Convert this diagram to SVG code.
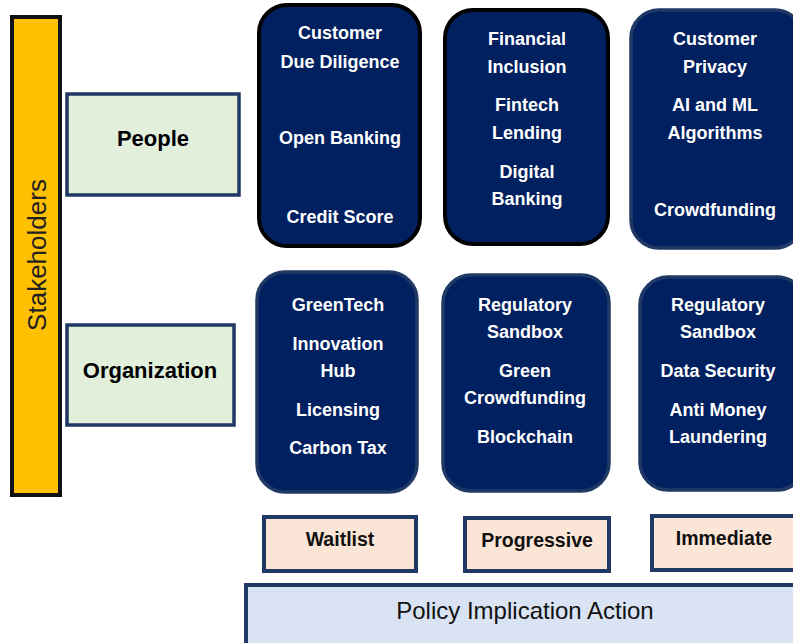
<svg xmlns="http://www.w3.org/2000/svg" width="793" height="643" viewBox="0 0 793 643">
  <style>
    .card { fill: #002060; stroke: #1F3864; stroke-width: 3.5; }
    .card.dark { stroke: #000000; stroke-width: 4; }
    .card-text { font-family: "Liberation Sans", Arial, sans-serif; font-weight: 700; font-size: 18px; fill: #ffffff; text-anchor: middle; dominant-baseline: central; }
    .group-box { fill: #E2EFDA; stroke: #1F3864; stroke-width: 3.5; }
    .group-text { font-family: "Liberation Sans", Arial, sans-serif; font-weight: 700; font-size: 22px; fill: #000000; text-anchor: middle; dominant-baseline: central; }
    .pace-box { fill: #FBE5D6; stroke: #1F3864; stroke-width: 4; }
    .pace-text { font-family: "Liberation Sans", Arial, sans-serif; font-weight: 700; font-size: 19.5px; fill: #111111; text-anchor: middle; dominant-baseline: central; }
    .policy-box { fill: #DAE3F3; stroke: #1F3864; stroke-width: 4; }
    .policy-text { font-family: "Liberation Sans", Arial, sans-serif; font-size: 24px; fill: #111111; text-anchor: middle; dominant-baseline: central; }
    .side-bar { fill: #FFC000; stroke: #111111; stroke-width: 4; }
    .side-text { font-family: "Liberation Sans", Arial, sans-serif; font-size: 26px; fill: #222222; text-anchor: middle; dominant-baseline: central; }
  </style>
  <rect width="793" height="643" fill="#ffffff"/>

  <!-- vertical axis: stakeholders -->
  <g id="stakeholders">
    <rect class="side-bar" x="12" y="17" width="48" height="478"/>
    <text class="side-text" transform="translate(37 255) rotate(-90)">Stakeholders</text>
  </g>

  <!-- stakeholder groups -->
  <g id="people">
    <rect class="group-box" x="67" y="94" width="172" height="101"/>
    <text class="group-text" x="153" y="138">People</text>
  </g>
  <g id="organization">
    <rect class="group-box" x="67" y="325" width="167" height="100"/>
    <text class="group-text" x="150" y="370">Organization</text>
  </g>

  <!-- people cards -->
  <g id="people-waitlist">
    <rect class="card dark" x="259" y="5" width="161" height="241" rx="28"/>
    <text class="card-text" x="340" y="33">Customer</text>
    <text class="card-text" x="340" y="62">Due Diligence</text>
    <text class="card-text" x="340" y="138">Open Banking</text>
    <text class="card-text" x="340" y="217">Credit Score</text>
  </g>
  <g id="people-progressive">
    <rect class="card dark" x="445" y="10" width="163" height="234" rx="28"/>
    <text class="card-text" x="527" y="39">Financial</text>
    <text class="card-text" x="527" y="67">Inclusion</text>
    <text class="card-text" x="527" y="105">Fintech</text>
    <text class="card-text" x="527" y="133">Lending</text>
    <text class="card-text" x="527" y="172">Digital</text>
    <text class="card-text" x="527" y="199">Banking</text>
  </g>
  <g id="people-immediate">
    <rect class="card" x="631" y="10" width="172" height="238" rx="28"/>
    <text class="card-text" x="715" y="39">Customer</text>
    <text class="card-text" x="715" y="67">Privacy</text>
    <text class="card-text" x="715" y="105">AI and ML</text>
    <text class="card-text" x="715" y="133">Algorithms</text>
    <text class="card-text" x="715" y="210">Crowdfunding</text>
  </g>

  <!-- organization cards -->
  <g id="organization-waitlist">
    <rect class="card" x="257" y="272" width="160" height="220" rx="28"/>
    <text class="card-text" x="338" y="305">GreenTech</text>
    <text class="card-text" x="338" y="344">Innovation</text>
    <text class="card-text" x="338" y="371">Hub</text>
    <text class="card-text" x="338" y="410">Licensing</text>
    <text class="card-text" x="338" y="448">Carbon Tax</text>
  </g>
  <g id="organization-progressive">
    <rect class="card" x="443" y="275" width="166" height="216" rx="28"/>
    <text class="card-text" x="525" y="305">Regulatory</text>
    <text class="card-text" x="525" y="332">Sandbox</text>
    <text class="card-text" x="525" y="371">Green</text>
    <text class="card-text" x="525" y="398">Crowdfunding</text>
    <text class="card-text" x="525" y="437">Blockchain</text>
  </g>
  <g id="organization-immediate">
    <rect class="card" x="640" y="277" width="165" height="213" rx="28"/>
    <text class="card-text" x="718" y="305">Regulatory</text>
    <text class="card-text" x="718" y="332">Sandbox</text>
    <text class="card-text" x="718" y="371">Data Security</text>
    <text class="card-text" x="718" y="410">Anti Money</text>
    <text class="card-text" x="718" y="437">Laundering</text>
  </g>

  <!-- pace labels -->
  <g id="waitlist">
    <rect class="pace-box" x="264" y="517" width="152" height="54"/>
    <text class="pace-text" x="340" y="539">Waitlist</text>
  </g>
  <g id="progressive">
    <rect class="pace-box" x="465" y="518" width="144" height="53"/>
    <text class="pace-text" x="537" y="540">Progressive</text>
  </g>
  <g id="immediate">
    <rect class="pace-box" x="652" y="516" width="150" height="54"/>
    <text class="pace-text" x="724" y="538">Immediate</text>
  </g>

  <!-- horizontal axis: policy action -->
  <g id="policy-action">
    <rect class="policy-box" x="246" y="585" width="560" height="60"/>
    <text class="policy-text" x="525" y="610">Policy Implication Action</text>
  </g>

  <g id="connectors"/>
</svg>
